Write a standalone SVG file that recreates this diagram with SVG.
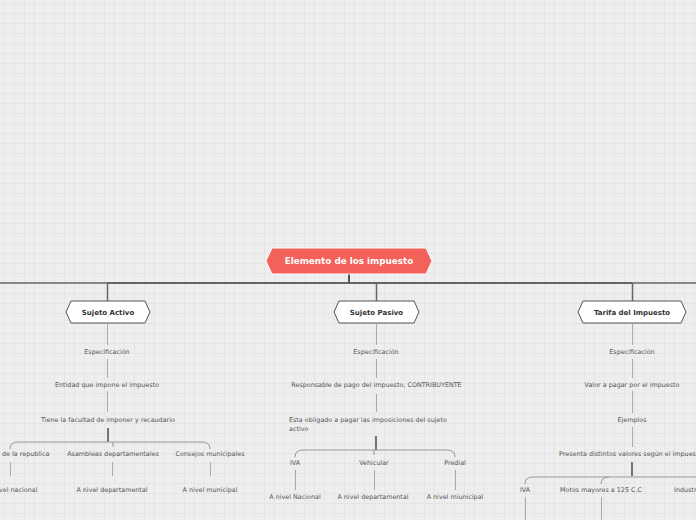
<svg xmlns="http://www.w3.org/2000/svg" width="696" height="520" viewBox="0 0 696 520">
<defs>
<pattern id="grid" width="10" height="10" patternUnits="userSpaceOnUse" x="4" y="3">
<rect width="10" height="10" fill="#eeeeee"/>
<path d="M0 0.5H10M0.5 0V10" stroke="#e5e5e5" stroke-width="1" fill="none"/>
</pattern>
<style>
.sub{font-family:"DejaVu Sans",sans-serif;font-size:6.4px;fill:#555}
.lbl{font-family:"DejaVu Sans",sans-serif;font-size:7px;font-weight:bold;fill:#333}
.root{font-family:"DejaVu Sans",sans-serif;font-size:8.8px;font-weight:bold;fill:#fff}
.hex{fill:#fff;stroke:#555;stroke-width:1}
.lt{stroke:#aaa;stroke-width:1;fill:none}
.dk{stroke:#555;stroke-width:1.6;fill:none}
.br{stroke:#999;stroke-width:1;fill:none}
</style>
</defs>
<rect width="696" height="520" fill="url(#grid)"/>
<g id="connectors">
<line x1="0" y1="283" x2="107" y2="283" stroke="#888" stroke-width="2"/>
<line x1="107" y1="283" x2="632" y2="283" stroke="#666" stroke-width="2"/>
<line x1="632" y1="283" x2="696" y2="283" stroke="#888" stroke-width="2"/>
<line x1="349" y1="274" x2="349" y2="283" stroke="#555" stroke-width="2"/>
<line x1="107.5" y1="283" x2="107.5" y2="301" stroke="#666" stroke-width="1.5"/>
<line x1="376.5" y1="283" x2="376.5" y2="301" stroke="#666" stroke-width="1.5"/>
<line x1="632.5" y1="283" x2="632.5" y2="301" stroke="#666" stroke-width="1.5"/>
<!-- column 1 -->
<path class="lt" d="M107.5 324V345M107.5 359V378M107.5 391V412"/>
<path class="dk" d="M108 428V442"/>
<path class="br" d="M10 449Q10 442 18 442H202Q210 442 210 449M113 442V447"/>
<path class="lt" d="M10.5 462V476M112.5 462V476M210.5 462V476"/>
<!-- column 2 -->
<path class="lt" d="M376.5 324V345M376.5 359V378M376.5 394V412"/>
<path class="dk" d="M376 436V450"/>
<path class="br" d="M295 457Q295 450 303 450H447Q455 450 455 457M374 450V455"/>
<path class="lt" d="M295.5 470V490M374.5 470V490M455.5 470V490"/>
<!-- column 3 -->
<path class="lt" d="M632.5 324V345M632.5 359V378M632.5 391V413M632.5 427V447"/>
<path class="dk" d="M632 462V476"/>
<path class="br" d="M525 484Q525 477 533 477H696M601 484Q601 477 609 477"/>
<path class="lt" d="M525.5 497V520M601.5 497V520"/>
</g>
<g id="root">
<polygon points="266,261 272,248 426,248 432,261 426,274 272,274" fill="#f2615a" stroke="#fff" stroke-width="1"/>
<text class="root" x="349" y="264" text-anchor="middle">Elemento de los impuesto</text>
</g>
<g id="sujeto-activo">
<polygon class="hex" points="66,312 71,301 145,301 150,312 145,323 71,323"/>
<text class="lbl" x="108" y="315" text-anchor="middle">Sujeto Activo</text>
</g>
<g id="sujeto-pasivo">
<polygon class="hex" points="334,312 339,301 414,301 419,312 414,323 339,323"/>
<text class="lbl" x="376.5" y="315" text-anchor="middle">Sujeto Pasivo</text>
</g>
<g id="tarifa">
<polygon class="hex" points="578,312 583,301 681,301 686,312 681,323 583,323"/>
<text class="lbl" x="632" y="315" text-anchor="middle">Tarifa del Impuesto</text>
</g>
<g id="activo-items">
<text class="sub" x="107" y="354" text-anchor="middle">Especificación</text>
<text class="sub" x="107" y="387" text-anchor="middle">Entidad que impone el impuesto</text>
<text class="sub" x="108" y="422" text-anchor="middle">Tiene la facultad de imponer y recaudario</text>
<text class="sub" x="2" y="456">de la republica</text>
<text class="sub" x="113" y="456" text-anchor="middle">Asambleas departamentales</text>
<text class="sub" x="210" y="456" text-anchor="middle">Consejos municipales</text>
<text class="sub" x="-1" y="492">vel nacional</text>
<text class="sub" x="112" y="492" text-anchor="middle">A nivel departamental</text>
<text class="sub" x="210" y="492" text-anchor="middle">A nivel municipal</text>
</g>
<g id="pasivo-items">
<text class="sub" x="376" y="354" text-anchor="middle">Especificación</text>
<text class="sub" x="376.5" y="387" text-anchor="middle">Responsable de pago del impuesto, CONTRIBUYENTE</text>
<text class="sub" x="289" y="422">Esta obligado a pagar las imposiciones del sujeto</text>
<text class="sub" x="289" y="430.5">activo</text>
<text class="sub" x="295" y="465" text-anchor="middle">IVA</text>
<text class="sub" x="374" y="465" text-anchor="middle">Vehicular</text>
<text class="sub" x="455" y="465" text-anchor="middle">Predial</text>
<text class="sub" x="295" y="499" text-anchor="middle">A nivel Nacional</text>
<text class="sub" x="373" y="499" text-anchor="middle">A nivel departamental</text>
<text class="sub" x="455" y="499" text-anchor="middle">A nivel miunicipal</text>
</g>
<g id="tarifa-items">
<text class="sub" x="632" y="354" text-anchor="middle">Especificación</text>
<text class="sub" x="632" y="387" text-anchor="middle">Valor a pagar por el impuesto</text>
<text class="sub" x="632" y="422" text-anchor="middle">Ejemplos</text>
<text class="sub" x="559" y="456">Presenta distintos valores según el impues</text>
<text class="sub" x="525" y="492" text-anchor="middle">IVA</text>
<text class="sub" x="601" y="492" text-anchor="middle">Motos mayores a 125 C.C</text>
<text class="sub" x="674" y="492">Industr</text>
</g>
</svg>
